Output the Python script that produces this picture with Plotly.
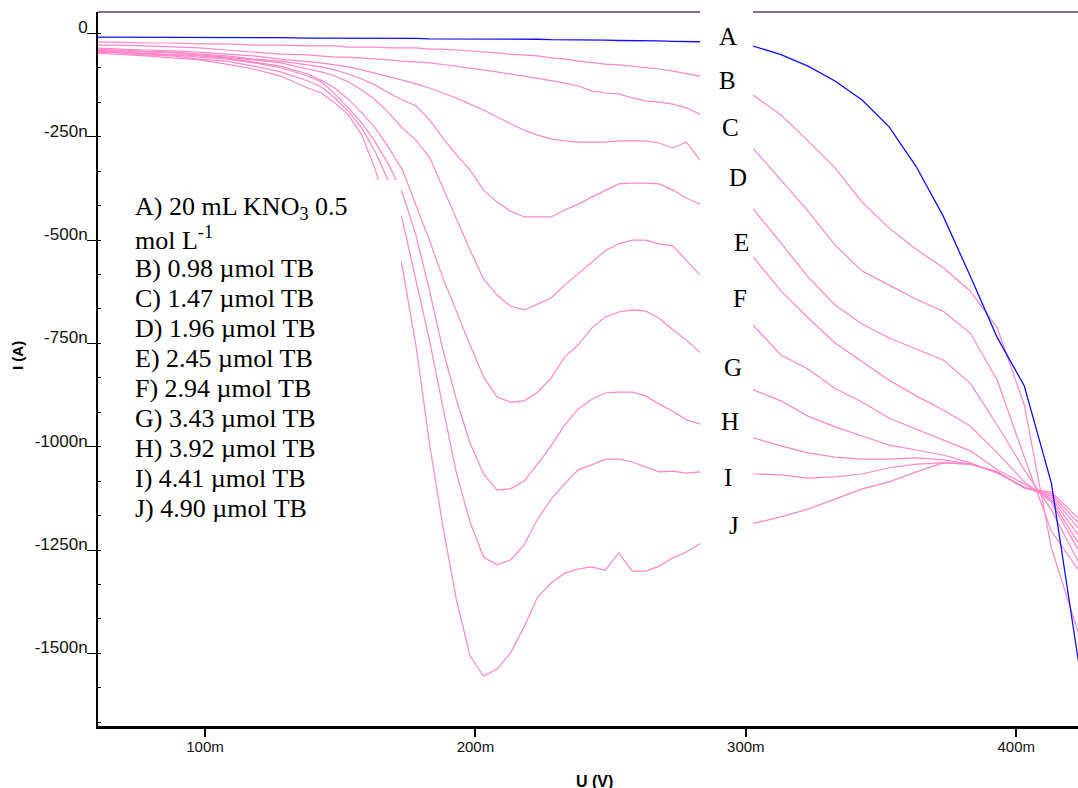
import plotly.graph_objects as go

# ---------------------------------------------------------------------------
# Data: current (nA) against applied potential (mV)
# ---------------------------------------------------------------------------
U_LEFT = [58, 68, 78, 88, 98, 108, 118, 128, 138]
U_MID = list(range(143, 304, 5))
U_RIGHT = [313, 323, 333, 343, 353, 363, 373, 383, 393, 403, 413, 423, 428]
U_MV = U_LEFT + U_MID + U_RIGHT

I_A = [-9, -9, -9, -9, -10, -10, -10, -10, -11,
       -11, -11, -11, -12, -12, -12, -12, -12, -13, -13,
       -13, -13, -13, -14, -14, -14, -14, -15, -15, -15,
       -16, -16, -17, -17, -18, -18, -19, -19, -20, -21,
       -23, -26, -31,
       -51, -79, -115, -161, -226, -322, -442, -587, -736, -853, -1088, -1519, -1758]

I_B = [-21, -21, -23, -23, -25, -25, -28, -28, -30,
       -30, -30, -33, -33, -33, -35, -35, -35, -38, -38,
       -40, -42, -45, -47, -50, -52, -54, -59, -62, -67,
       -71, -74, -76, -79, -83, -86, -91, -97, -103, -113,
       -125, -137, -151,
       -197, -260, -325, -408, -471, -522, -567, -623, -713, -899, -1245, -1451, -1468]

I_C = [-28, -28, -30, -33, -35, -40, -45, -50, -52,
       -54, -57, -57, -59, -62, -64, -67, -69, -71, -75,
       -79, -83, -88, -93, -98, -103, -108, -114, -120, -127,
       -139, -144, -146, -156, -163, -166, -171, -180, -195, -221,
       -253, -270, -280,
       -355, -430, -512, -575, -609, -643, -672, -725, -839, -1025, -1204, -1298, -1289]

I_D = [-35, -38, -40, -42, -45, -50, -54, -62, -67,
       -71, -76, -81, -88, -96, -105, -113, -122, -132, -144,
       -156, -171, -185, -202, -219, -234, -246, -255, -260, -263,
       -263, -263, -260, -260, -260, -265, -277, -263, -306, -335,
       -367, -391, -427,
       -507, -589, -657, -703, -737, -764, -790, -846, -948, -1056, -1153, -1279, -1310]

I_E = [-38, -40, -42, -45, -50, -54, -62, -67, -76,
       -81, -88, -98, -110, -125, -144, -161, -175, -209, -253,
       -294, -330, -379, -408, -430, -444, -444, -444, -427, -413,
       -396, -379, -364, -362, -362, -364, -379, -398, -413, -447,
       -488, -519, -543,
       -623, -688, -749, -795, -839, -877, -911, -950, -1015, -1085, -1134, -1250, -1274]

I_F = [-40, -42, -45, -47, -52, -57, -64, -71, -86,
       -93, -103, -117, -137, -161, -192, -229, -258, -299, -374,
       -451, -524, -594, -633, -660, -669, -655, -640, -609, -582,
       -553, -526, -509, -500, -500, -509, -514, -548, -584, -606,
       -645, -681, -708,
       -778, -812, -859, -892, -931, -957, -984, -1010, -1056, -1090, -1129, -1233, -1255]

I_G = [-42, -45, -47, -50, -54, -59, -69, -79, -98,
       -113, -132, -159, -192, -229, -277, -330, -415, -500, -592,
       -674, -754, -831, -880, -892, -889, -868, -834, -783, -754,
       -713, -686, -674, -669, -672, -689, -717, -742, -771, -795,
       -819, -843, -863,
       -889, -926, -952, -974, -996, -1008, -1020, -1039, -1064, -1097, -1124, -1214, -1238]

I_H = [-42, -45, -50, -52, -57, -62, -71, -83, -103,
       -117, -146, -180, -217, -263, -318, -386, -488, -621, -766,
       -887, -991, -1066, -1105, -1102, -1083, -1042, -998, -948, -909,
       -885, -870, -868, -868, -877, -897, -914, -935, -945, -955,
       -964, -972, -979,
       -998, -1015, -1025, -1030, -1030, -1027, -1032, -1042, -1061, -1100, -1119, -1197, -1216]

I_I = [-45, -47, -52, -54, -62, -67, -79, -93, -115,
       -129, -156, -188, -229, -287, -359, -451, -597, -742, -906,
       -1064, -1182, -1267, -1286, -1274, -1238, -1175, -1127, -1090, -1056,
       -1044, -1030, -1030, -1037, -1049, -1061, -1059, -1064, -1061, -1064,
       -1066, -1066, -1066,
       -1068, -1076, -1073, -1066, -1051, -1042, -1039, -1042, -1061, -1100, -1114, -1185, -1202]

I_J = [-47, -50, -54, -59, -64, -74, -86, -103, -132,
       -144, -168, -197, -246, -330, -439, -567, -754, -991, -1194,
       -1371, -1506, -1555, -1538, -1499, -1436, -1364, -1330, -1306, -1296,
       -1291, -1299, -1257, -1301, -1301, -1289, -1269, -1255, -1235, -1221,
       -1206, -1194, -1185,
       -1170, -1151, -1127, -1102, -1085, -1061, -1039, -1042, -1061, -1100, -1110, -1173, -1187]

CURVE_LETTERS = ["A", "B", "C", "D", "E", "F", "G", "H", "I", "J"]
CURVES = [I_A, I_B, I_C, I_D, I_E, I_F, I_G, I_H, I_I, I_J]

LEGEND_LINES = [
    "A) 20 mL KNO<sub>3</sub> 0.5",
    "mol L<sup>-1</sup>",
    "B) 0.98 \u00b5mol TB",
    "C) 1.47 \u00b5mol TB",
    "D) 1.96 \u00b5mol TB",
    "E) 2.45 \u00b5mol TB",
    "F) 2.94 \u00b5mol TB",
    "G) 3.43 \u00b5mol TB",
    "H) 3.92 \u00b5mol TB",
    "I) 4.41 \u00b5mol TB",
    "J) 4.90 \u00b5mol TB",
]

X_TICKS = [100, 200, 300, 400]
X_TICK_TEXT = ["100m", "200m", "300m", "400m"]
Y_TICKS = [0, -250, -500, -750, -1000, -1250, -1500]
Y_TICK_TEXT = ["0", "-250n", "-500n", "-750n", "-1000n", "-1250n", "-1500n"]

for vals in CURVES:
    assert len(vals) == len(U_MV)

# ---------------------------------------------------------------------------
# Page geometry (pixels) and helpers
# ---------------------------------------------------------------------------
W, H = 1078, 788
PL, PR, PT, PB = 98, 1078, 12, 726          # plot-area edges
X_RANGE = [60.43, 422.85]
Y_RANGE = [-1675.9, 52.0]


def px(x):
    return (x - PL) / (PR - PL)


def py(y):
    return (PB - y) / (PB - PT)


PINK = "#ff87c9"
BLUE = "#1010ff"
SERIF = "Liberation Serif, Times New Roman, serif"
SANS = "Liberation Sans, Arial, sans-serif"

fig = go.Figure()

# pink curves first, the electrolyte blank (blue) on top
for letter, vals in list(zip(CURVE_LETTERS, CURVES))[1:]:
    fig.add_trace(go.Scatter(x=U_MV, y=vals, mode="lines", name=letter,
                             line=dict(color=PINK, width=1.2),
                             hoverinfo="skip", showlegend=False))
fig.add_trace(go.Scatter(x=U_MV, y=I_A, mode="lines", name="A",
                         line=dict(color=BLUE, width=1.3),
                         hoverinfo="skip", showlegend=False))

shapes = [
    # upper frame line
    dict(type="line", xref="paper", yref="paper", x0=0, x1=1, y0=1, y1=1,
         line=dict(color="#8c6790", width=2), layer="above"),
    # white backing behind the curve letters
    dict(type="rect", xref="paper", yref="paper",
         x0=px(700), x1=px(753), y0=py(560), y1=py(8),
         fillcolor="white", line=dict(width=0), layer="above"),
    # white backing behind the legend text
    dict(type="rect", xref="paper", yref="paper",
         x0=px(125), x1=px(401), y0=py(530), y1=py(180),
         fillcolor="white", line=dict(width=0), layer="above"),
]

annotations = []
# legend block
for i, line in enumerate(LEGEND_LINES):
    annotations.append(dict(
        text=line, xref="paper", yref="paper",
        x=px(133), y=py(208 + 30 * i), xanchor="left", yanchor="middle",
        showarrow=False, font=dict(family=SERIF, size=26, color="black")))

# curve letters
LETTER_POS = [(728, 37), (727, 80), (730, 128), (738, 178), (741, 243),
              (740, 298), (733, 367), (730, 422), (728, 477), (734, 525)]
for letter, (lx, ly) in zip(CURVE_LETTERS, LETTER_POS):
    annotations.append(dict(
        text=letter, xref="paper", yref="paper", x=px(lx), y=py(ly),
        xanchor="center", yanchor="middle", showarrow=False,
        font=dict(family=SERIF, size=25, color="black")))

# axis titles
annotations.append(dict(text="<b>I (A)</b>", xref="paper", yref="paper",
                        x=px(18), y=py(356), textangle=-90,
                        xanchor="center", yanchor="middle", showarrow=False,
                        font=dict(family=SANS, size=15, color="black")))
annotations.append(dict(text="<b>U (V)</b>", xref="paper", yref="paper",
                        x=px(594), y=py(781), xanchor="center",
                        yanchor="middle", showarrow=False,
                        font=dict(family=SANS, size=16, color="black")))

fig.update_layout(
    width=W, height=H,
    margin=dict(l=PL, r=W - PR, t=PT, b=H - PB, pad=0),
    paper_bgcolor="white", plot_bgcolor="white",
    showlegend=False,
    shapes=shapes,
    annotations=annotations,
    xaxis=dict(range=X_RANGE, tickmode="array", tickvals=X_TICKS,
               ticktext=X_TICK_TEXT, ticks="outside", ticklen=8,
               tickwidth=1.5, tickcolor="black", showline=True,
               linecolor="black", linewidth=2.5, showgrid=False,
               zeroline=False, ticklabelstandoff=-3,
               tickfont=dict(family=SANS, size=15, color="#111")),
    yaxis=dict(range=Y_RANGE, tickmode="array", tickvals=Y_TICKS,
               ticktext=Y_TICK_TEXT, ticks="outside", ticklen=9,
               tickwidth=1.2, tickcolor="black", showline=True,
               linecolor="black", linewidth=2, showgrid=False,
               zeroline=False, ticklabelshift=-6, ticklabelstandoff=-4,
               tickfont=dict(family=SANS, size=17, color="#111"),
               minor=dict(ticks="inside", ticklen=3, tickwidth=1,
                          tickcolor="black", tick0=0, dtick=250 / 3,
                          showgrid=False)),
)

fig.write_html("out.html")
